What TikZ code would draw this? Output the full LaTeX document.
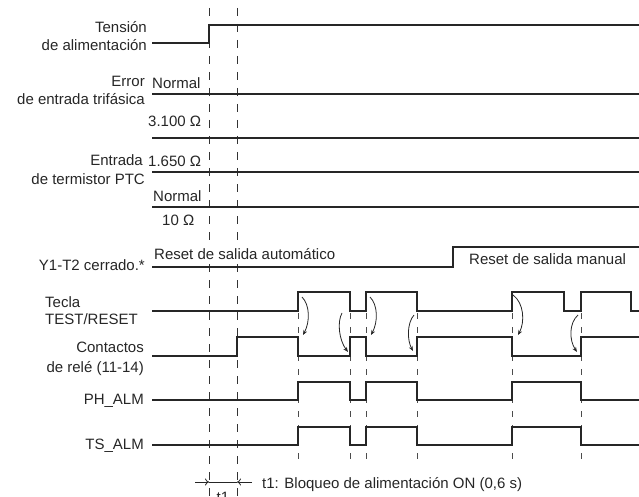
\documentclass[tikz,border=0pt]{standalone}
\usepackage{fontspec}
\setmainfont{Liberation Sans}
\usetikzlibrary{arrows.meta}
\begin{document}
\begin{tikzpicture}[x=1pt,y=-1pt,
  sig/.style={line width=1.3pt, black!85, line join=miter},
  longdash/.style={black!80, line width=0.7pt, dash pattern=on 8pt off 8pt},
  shortdash/.style={black!70, line width=0.7pt, dash pattern=on 6pt off 8pt},
  curv/.style={line width=0.8pt, black!85, -{Stealth[length=5pt,width=4pt]}},
  lbl/.style={font=\fontsize{15}{17}\selectfont, inner sep=0pt, text=black!85},
  rl/.style={lbl, anchor=base east},
  ll/.style={lbl, anchor=base west}]
\useasboundingbox (0,0) rectangle (639,497);
% long dashed guides
\draw[longdash] (209,8) -- (209,500);
\draw[longdash] (237,8) -- (237,500);
% short dashed guides
\foreach \x in {298,350,366,417,512,581}
  \draw[shortdash] (\x,313) -- (\x,464);
% labels
\node[rl] (tens1) at (147,33) {Tensión};
\node[rl] (tens2) at (147,51) {de alimentación};
\node[rl] (err1) at (145,87) {Error};
\node[rl] (err2) at (145,105) {de entrada trifásica};
\node[ll] (nor1) at (152,89) {Normal};
\node[ll] (r3100) at (148,127) {3.100 Ω};
\node[rl] (ent1) at (143,166) {Entrada};
\node[rl] (ent2) at (145,185) {de termistor PTC};
\node[ll] (r1650) at (148,167) {1.650 Ω};
\node[ll] (nor2) at (153,201) {Normal};
\node[ll] (r10) at (162,225) {10 Ω};
\node[ll, fill=white, inner sep=1pt] (rauto) at (153,259) {Reset de salida automático};
\node[rl] (y1t2) at (145,270) {Y1-T2 cerrado.*};
\node[ll] (rman) at (469,264) {Reset de salida manual};
\node[ll] (tec1) at (45,307) {Tecla};
\node[ll] (tec2) at (45,324) {TEST/RESET};
\node[rl] (con1) at (144,352) {Contactos};
\node[rl] (con2) at (144,372) {de relé (11-14)};
\node[rl] (ph) at (144,404) {PH\_ALM};
\node[rl] (ts) at (144,449) {TS\_ALM};
\node[ll] (t1txt) at (262,488) {t1: Bloqueo de alimentación ON (0,6 s)};
\node[lbl, anchor=base] (t1) at (223,502) {t1};
% signals
\draw[sig] (152,43) -- (209,43) -- (209,25) -- (639,25);
\draw[sig] (152,94) -- (639,94);
\draw[sig] (152,138) -- (639,138);
\draw[sig] (152,172) -- (639,172);
\draw[sig] (152,207) -- (639,207);
\draw[sig] (152,267) -- (453,267) -- (453,247) -- (639,247);
\draw[sig] (152,311) -- (298,311) -- (298,292) -- (350,292) -- (350,311) -- (366,311) -- (366,292) -- (417,292) -- (417,311) -- (512,311) -- (512,292) -- (564,292) -- (564,311) -- (581,311) -- (581,292) -- (631,292) -- (631,311) -- (639,311);
\draw[sig] (152,356) -- (237,356) -- (237,337) -- (298,337) -- (298,356) -- (350,356) -- (350,337) -- (366,337) -- (366,356) -- (417,356) -- (417,337) -- (512,337) -- (512,356) -- (581,356) -- (581,337) -- (639,337);
\draw[sig] (152,400) -- (298,400) -- (298,382) -- (350,382) -- (350,400) -- (366,400) -- (366,382) -- (417,382) -- (417,400) -- (512,400) -- (512,382) -- (581,382) -- (581,400) -- (639,400);
\draw[sig] (152,445) -- (298,445) -- (298,427) -- (350,427) -- (350,445) -- (366,445) -- (366,427) -- (417,427) -- (417,445) -- (512,445) -- (512,427) -- (581,427) -- (581,445) -- (639,445);
% curved arrows
\draw[curv] (302,297) .. controls (310,305) and (310,322) .. (303,335);
\draw[curv] (342,313) .. controls (337,322) and (339,340) .. (348,352);
\draw[curv] (370,297) .. controls (378,305) and (378,322) .. (371,335);
\draw[curv] (414,315) .. controls (407,323) and (407,340) .. (413,351);
\draw[curv] (513,295) .. controls (524,303) and (525,322) .. (518,335);
\draw[curv] (578,315) .. controls (569,323) and (569,340) .. (577,352);
% t1 dimension
\coordinate (ta) at (195,482);
\coordinate (tb) at (252,482);
\coordinate (t209) at (209,482);
\coordinate (t237) at (237,482);
\draw[line width=0.8pt, black!85] (t209) -- (t237);
\draw[line width=0.8pt, black!85, -{To[length=4pt,width=7pt]}] (ta) -- (t209);
\draw[line width=0.8pt, black!85, -{To[length=4pt,width=7pt]}] (tb) -- (t237);
\end{tikzpicture}
\end{document}
